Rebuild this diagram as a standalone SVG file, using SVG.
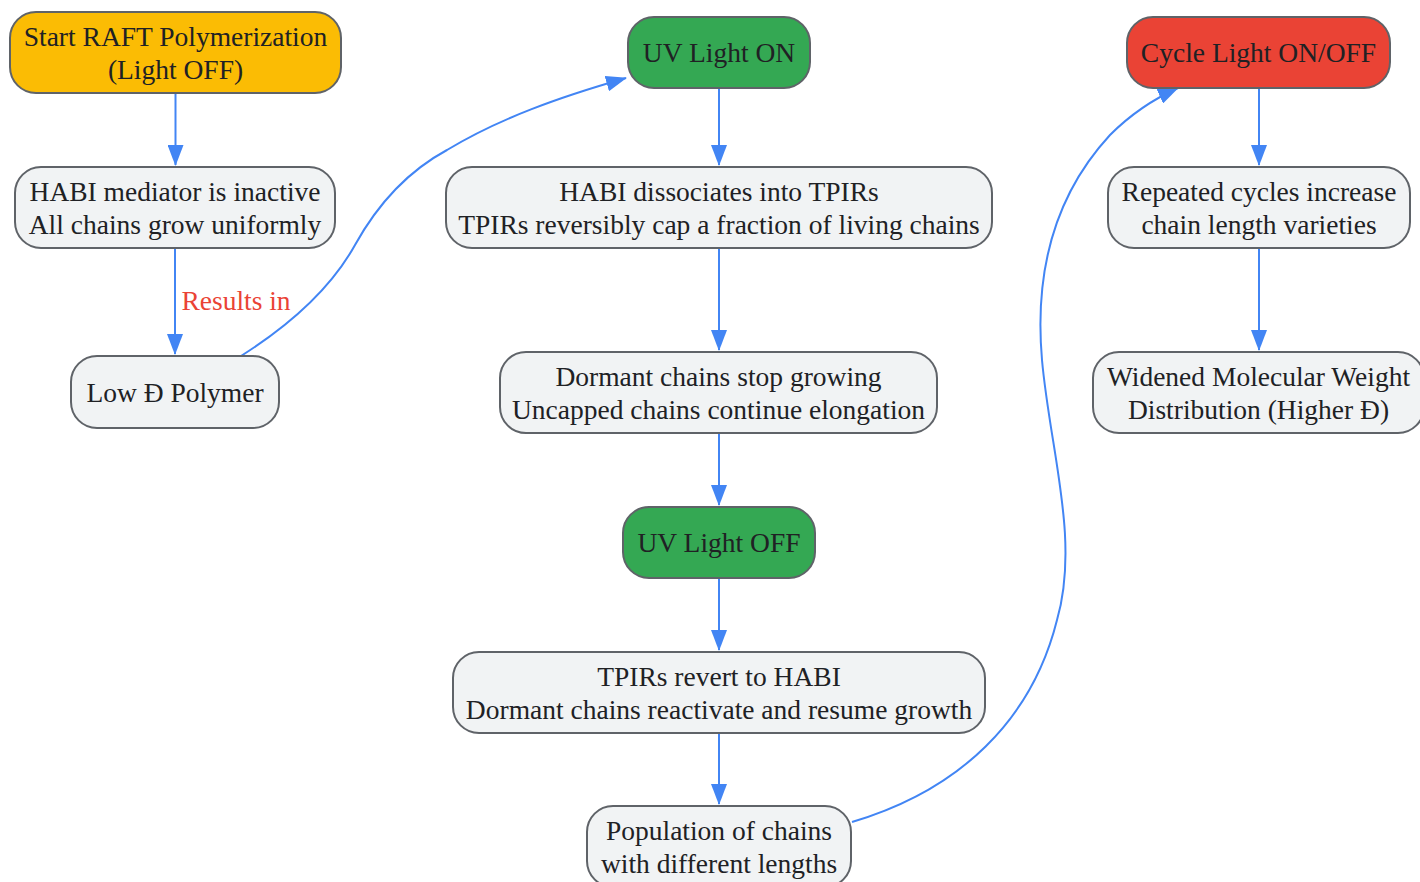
<svg xmlns="http://www.w3.org/2000/svg" width="1420" height="882" viewBox="0 0 1420 882">
<style>
.n rect{fill:#f1f3f4;stroke:#5f6368;stroke-width:2}
.n text,.lbl{font-family:"Liberation Serif","Times New Roman",serif;font-size:27.5px;fill:#202124;text-anchor:middle;dominant-baseline:central}
.yel rect{fill:#fbbc04}
.grn rect{fill:#34a853}
.red rect{fill:#ea4335}
.e{fill:none;stroke:#4285f4;stroke-width:2;marker-end:url(#ah)}
.lbl{fill:#ea4335}
</style>
<defs>
<marker id="ah" markerUnits="userSpaceOnUse" markerWidth="22" markerHeight="16" refX="20" refY="8" orient="auto" viewBox="0 0 22 16">
<path d="M0,0 L21,8 L0,16 z" fill="#4285f4"/>
</marker>
</defs>
<rect width="1420" height="882" fill="#ffffff"/>
<g id="edges">
<path class="e" d="M175.5,93 V165"/>
<path class="e" d="M175,248 V354"/>
<path class="e" d="M241,356 C290,325 330,290 355,245 C380,200 410,170 447,150 C500,118 560,97 626,78"/>
<path class="e" d="M719,88 V165"/>
<path class="e" d="M719,248 V350"/>
<path class="e" d="M719,433 V505"/>
<path class="e" d="M719,578 V650"/>
<path class="e" d="M719,733 V804"/>
<path class="e" d="M852,822 C960,790 1032,720 1057,620 C1080,540 1050,450 1042,360 C1035,280 1050,200 1110,135 C1135,110 1158,97 1178,88"/>
<path class="e" d="M1259,88 V165"/>
<path class="e" d="M1259,248 V350"/>
<text class="lbl" x="236" y="300">Results in</text>
</g>
<g id="start" class="n yel"><rect x="10" y="12" width="331" height="81" rx="26"/><text x="175.5" y="36">Start RAFT Polymerization</text><text x="175.5" y="69">(Light OFF)</text></g>
<g id="habi_inactive" class="n"><rect x="15" y="167" width="320" height="81" rx="26"/><text x="175" y="191">HABI mediator is inactive</text><text x="175" y="224">All chains grow uniformly</text></g>
<g id="low_d" class="n"><rect x="71" y="356" width="208" height="72" rx="26"/><text x="175" y="392">Low Đ Polymer</text></g>
<g id="uv_on" class="n grn"><rect x="628" y="17" width="182" height="71" rx="26"/><text x="719" y="52">UV Light ON</text></g>
<g id="habi_diss" class="n"><rect x="446" y="167" width="546" height="81" rx="26"/><text x="719" y="191">HABI dissociates into TPIRs</text><text x="719" y="224">TPIRs reversibly cap a fraction of living chains</text></g>
<g id="dormant" class="n"><rect x="500" y="352" width="437" height="81" rx="26"/><text x="718.5" y="376">Dormant chains stop growing</text><text x="718.5" y="409">Uncapped chains continue elongation</text></g>
<g id="uv_off" class="n grn"><rect x="623" y="507" width="192" height="71" rx="26"/><text x="719" y="542">UV Light OFF</text></g>
<g id="revert" class="n"><rect x="453" y="652" width="532" height="81" rx="26"/><text x="719" y="676">TPIRs revert to HABI</text><text x="719" y="709">Dormant chains reactivate and resume growth</text></g>
<g id="population" class="n"><rect x="587" y="806" width="264" height="81" rx="26"/><text x="719" y="830">Population of chains</text><text x="719" y="863">with different lengths</text></g>
<g id="cycle" class="n red"><rect x="1127" y="17" width="263" height="71" rx="26"/><text x="1258.5" y="52">Cycle Light ON/OFF</text></g>
<g id="repeated" class="n"><rect x="1108" y="167" width="302" height="81" rx="26"/><text x="1259" y="191">Repeated cycles increase</text><text x="1259" y="224">chain length varieties</text></g>
<g id="widened" class="n"><rect x="1093" y="352" width="331" height="81" rx="26"/><text x="1258.5" y="376">Widened Molecular Weight</text><text x="1258.5" y="409">Distribution (Higher Đ)</text></g>
</svg>
